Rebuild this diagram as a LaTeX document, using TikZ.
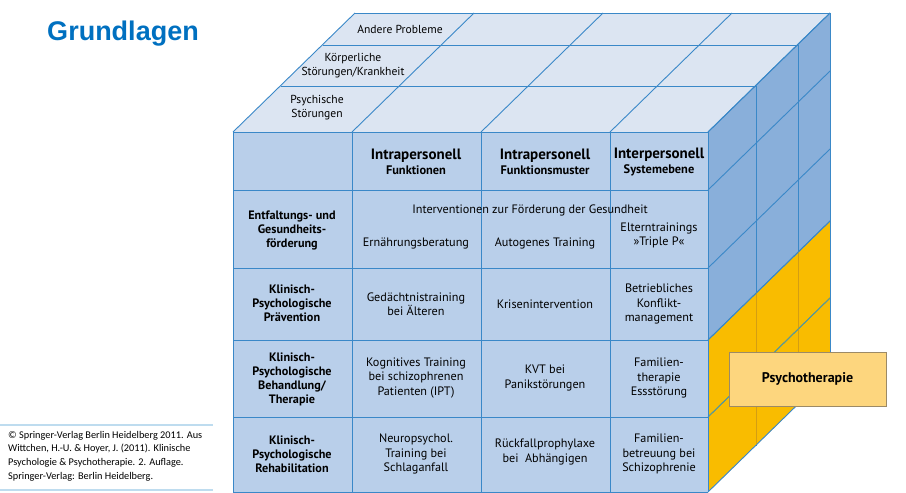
\documentclass[tikz,border=0pt]{standalone}
\usepackage{fontspec}
\setmainfont{PT Sans}
\newfontfamily\titlefont{Liberation Sans}
\newfontfamily\notefont{Carlito}

\definecolor{frontfill}{HTML}{B9CFEA}
\definecolor{topfill}{HTML}{DCE5F2}
\definecolor{sidefill}{HTML}{89AFDA}
\definecolor{therapyfill}{HTML}{F9BC00}
\definecolor{gridblue}{HTML}{3A88C8}
\definecolor{gridteal}{HTML}{5E9C8E}
\definecolor{gridamber}{HTML}{D49E12}
\definecolor{boxfill}{HTML}{FDD67E}
\definecolor{boxdraw}{HTML}{9C8A66}
\definecolor{titleblue}{HTML}{0070C0}
\definecolor{rulecol}{HTML}{BEDCEF}

\begin{document}
\begin{tikzpicture}[x=1pt,y=-1pt,
  gridline/.style={draw=gridblue,line width=0.9pt},
  toptext/.style={align=center,inner sep=0pt,font=\fontsize{11.6}{14}\selectfont},
  cell/.style={align=center,inner sep=0pt,font=\fontsize{12.2}{14.2}\selectfont},
  rowlabel/.style={cell,font=\bfseries\fontsize{12.2}{14}\selectfont},
  colhead/.style={align=center,inner sep=0pt,font=\bfseries\fontsize{12.4}{15.5}\selectfont},
  notetext/.style={align=left,anchor=north west,inner sep=0pt,font=\notefont\fontsize{10.3}{13.6}\selectfont},
  noterule/.style={draw=rulecol,line width=2.5pt},
  tagbox/.style={draw=boxdraw,fill=boxfill,line width=0.9pt,minimum width=157pt,minimum height=54pt,
                 font=\bfseries\fontsize{14}{16}\selectfont}]
\useasboundingbox (0,0) rectangle (906,493);

% ---- faces of the cube ----
\fill[topfill] (233,132) -- (355,13) -- (830,13) -- (708,132) -- cycle;
\fill[sidefill] (708,132) -- (830,13) -- (830,373) -- (708,492) -- cycle;
\fill[therapyfill] (708,340) -- (830,221) -- (830,373) -- (708,492) -- cycle;
\fill[frontfill] (233,132) rectangle (708,492);

% ---- top face grid ----
\foreach \x in {233,352,481,610,708}
  \draw[gridline] (\x,132) -- ++(122,-119);
\draw[gridline] (281,86) -- (756,86);
\draw[gridline] (323,45) -- (798,45);
\draw[gridline] (355,13) -- (830,13);

% ---- side face grid ----
\draw[gridline] (756,86) -- (756,446);
\draw[gridline] (798,45) -- (798,405);
\draw[gridline] (830,13) -- (830,373);
\foreach \y in {132,190,268,340,417,492}
  \draw[gridline] (708,\y) -- ++(122,-119);

% grid lines inside the therapy block
\begin{scope}
  \clip (708,340) -- (830,221) -- (830,373) -- (708,492) -- cycle;
  \draw[draw=gridamber,line width=0.9pt] (756,86) -- (756,446);
  \draw[draw=gridamber,line width=0.9pt] (798,45) -- (798,405);
  \draw[draw=gridteal,line width=0.9pt] (708,417) -- ++(122,-119);
\end{scope}
\draw[gridline] (708,340) -- ++(122,-119);

% ---- front face grid ----
\foreach \y in {132,190,268,340,417,492}
  \draw[gridline] (233,\y) -- (708,\y);
\foreach \x in {233,352,481,610,708}
  \draw[gridline] (\x,132) -- (\x,492);

% ---- top face labels ----
\node[toptext] (andere) at (400,29) {Andere Probleme};
\node[toptext] (koerper) at (353,66) {Körperliche\\Störungen/Krankheit};
\node[toptext] (psychisch) at (317,108) {Psychische\\Störungen};

% ---- column heads ----
\node[colhead] (head1) at (416,162) {{\fontsize{15}{15.5}\selectfont Intrapersonell}\\Funktionen};
\node[colhead] (head2) at (545,162) {{\fontsize{15}{15.5}\selectfont Intrapersonell}\\Funktionsmuster};
\node[colhead] (head3) at (659,162) {{\fontsize{15}{15.5}\selectfont Interpersonell}\\Systemebene};

% ---- row labels ----
\node[rowlabel] (row1) at (292,230) {Entfaltungs- und\\Gesundheits-\\förderung};
\node[rowlabel] (row2) at (292,303) {Klinisch-\\Psychologische\\Prävention};
\node[rowlabel] (row3) at (292,379) {Klinisch-\\Psychologische\\Behandlung/\\Therapie};
\node[rowlabel] (row4) at (292,454) {Klinisch-\\Psychologische\\Rehabilitation};

% ---- cells ----
\node[cell] (promo) at (530,210) {Interventionen zur Förderung der Gesundheit};
\node[cell] (c11) at (416,243) {Ernährungsberatung};
\node[cell] (c12) at (545,243) {Autogenes Training};
\node[cell] (c13) at (659,235) {Elterntrainings\\»Triple P«};

\node[cell] (c21) at (416,304) {Gedächtnistraining\\bei Älteren};
\node[cell] (c22) at (545,304) {Krisenintervention};
\node[cell] (c23) at (659,304) {Betriebliches\\Konflikt-\\management};

\node[cell] (c31) at (416,378) {Kognitives Training\\bei schizophrenen\\Patienten (IPT)};
\node[cell] (c32) at (545,378) {KVT bei\\Panikstörungen};
\node[cell] (c33) at (659,378) {Familien-\\therapie\\Essstörung};

\node[cell] (c41) at (416,454) {Neuropsychol.\\Training bei\\Schlaganfall};
\node[cell] (c42) at (545,452) {Rückfallprophylaxe\\bei\ \ Abhängigen};
\node[cell] (c43) at (659,454) {Familien-\\betreuung bei\\Schizophrenie};

% ---- therapy tag ----
\node[tagbox] (therapy) at (807.5,379) {Psychotherapie};

% ---- title ----
\node[inner sep=0pt,text=titleblue,font=\titlefont\bfseries\fontsize{27}{30}\selectfont] (title) at (123,34) {Grundlagen};

% ---- source note ----
\draw[noterule] (0,425) -- (213,425);
\draw[noterule] (0,490) -- (213,490);
\node[notetext] (source) at (8,431) {© Springer-Verlag Berlin Heidelberg 2011. Aus\\Wittchen, H.-U. \& Hoyer, J. (2011). Klinische\\Psychologie \& Psychotherapie. 2. Auflage.\\Springer-Verlag: Berlin Heidelberg.};
\end{tikzpicture}
\end{document}
